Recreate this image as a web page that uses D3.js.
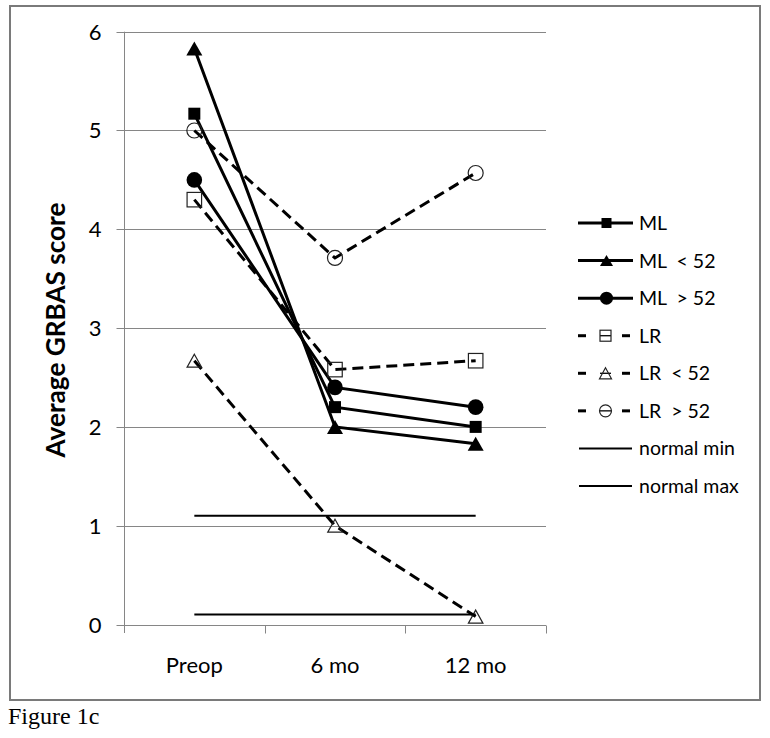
<!DOCTYPE html>
<html>
<head>
<meta charset="utf-8">
<script src="https://cdn.jsdelivr.net/npm/d3@7/dist/d3.min.js"></script>
<style>
  html, body { margin: 0; padding: 0; background: #fff; }
  svg { display: block; }
  text { font-family: Lato, "Open Sans", sans-serif; fill: #000; }
</style>
</head>
<body>
<svg id="chart" width="770" height="738"></svg>
<script>
// ---- data ----
const categories = ["Preop", "6 mo", "12 mo"];
const yTicks = [0, 1, 2, 3, 4, 5, 6];
const seriesNames = ["ML", "ML\u00a0\u00a0< 52", "ML\u00a0\u00a0> 52", "LR", "LR\u00a0\u00a0< 52", "LR\u00a0\u00a0> 52", "normal min", "normal max"];
const ML      = [5.17, 2.20, 2.00];
const ML_lt52 = [5.83, 2.00, 1.83];
const ML_gt52 = [4.50, 2.40, 2.20];
const LR      = [4.30, 2.58, 2.67];
const LR_lt52 = [2.67, 1.00, 0.08];
const LR_gt52 = [5.00, 3.71, 4.57];
const normalMin = [0.10, 0.10, 0.10];
const normalMax = [1.10, 1.10, 1.10];
const seriesValues = [ML, ML_lt52, ML_gt52, LR, LR_lt52, LR_gt52, normalMin, normalMax];

// ---- styles ----
const styles = [
  {marker: "square",   filled: true,  dash: null,   width: 3},
  {marker: "triangle", filled: true,  dash: null,   width: 3},
  {marker: "circle",   filled: true,  dash: null,   width: 3},
  {marker: "square",   filled: false, dash: "11,6", width: 3},
  {marker: "triangle", filled: false, dash: "11,6", width: 3},
  {marker: "circle",   filled: false, dash: "11,6", width: 3},
  {marker: null,       filled: false, dash: null,   width: 2},
  {marker: null,       filled: false, dash: null,   width: 2}
];

const svg = d3.select("#chart");
const gridColor = "#868686";

// outer frame
svg.append("rect").attr("x", 10).attr("y", 6).attr("width", 750).attr("height", 694)
  .attr("fill", "none").attr("stroke", "#7a7a7a").attr("stroke-width", 2);

// scales
const x = d3.scaleBand().domain(categories).range([124, 546]).paddingInner(0).paddingOuter(0);
const y = d3.scaleLinear().domain([0, 6]).range([624.5, 31.7]);
const cx = c => x(c) + x.bandwidth() / 2;

// gridlines
svg.append("g").selectAll("line").data(yTicks.filter(t => t > 0)).join("line")
  .attr("x1", 124).attr("x2", 546)
  .attr("y1", d => Math.round(y(d)) + 0.5).attr("y2", d => Math.round(y(d)) + 0.5)
  .attr("stroke", gridColor).attr("stroke-width", 1);

// y axis
const yAxis = d3.axisLeft(y).tickValues(yTicks).tickSize(8).tickPadding(15).tickFormat(d3.format("d"));
const gy = svg.append("g").attr("transform", "translate(124.5,0)").call(yAxis);
gy.select(".domain").attr("stroke", gridColor).attr("d", `M0,${y(6)}V${y(0) + 8.5}`);
gy.selectAll(".tick line").attr("stroke", gridColor);
gy.selectAll(".tick text").attr("font-size", 22).attr("font-family", "Lato").attr("fill", "#000").attr("dy", "0.36em");
gy.selectAll(".tick").attr("transform", d => `translate(0,${Math.round(y(d)) + 0.5})`);

// x axis
const xAxis = d3.axisBottom(x).tickSize(0).tickPadding(32);
const gx = svg.append("g").attr("transform", `translate(0,${Math.round(y(0)) + 0.5})`).call(xAxis);
gx.select(".domain").attr("stroke", gridColor).attr("d", "M124,0H546");
gx.selectAll(".tick text").attr("font-size", 22).attr("font-family", "Lato").attr("fill", "#000");
// category boundary ticks
const bounds = categories.map(c => x(c)).concat([x(categories[categories.length - 1]) + x.bandwidth()]).slice(1);
gx.append("g").selectAll("line").data(bounds).join("line")
  .attr("x1", d => Math.round(d) + 0.5).attr("x2", d => Math.round(d) + 0.5)
  .attr("y1", 0).attr("y2", 8).attr("stroke", gridColor);

// y title
const title = svg.append("text")
  .attr("transform", "translate(65,330) rotate(-90)")
  .attr("text-anchor", "middle")
  .attr("font-weight", "bold")
  .attr("font-size", 25)
  .text("Average GRBAS score");
const tl = title.node().getComputedTextLength();
title.attr("font-size", 25 * 255 / tl);

// marker drawing
function drawMarker(g, type, filled, px, py, big) {
  if (type === "square") {
    const s = filled ? (big ? 12 : 10) : (big ? 14.5 : 11);
    g.append("rect").attr("x", px - s / 2).attr("y", py - s / 2).attr("width", s).attr("height", s)
      .attr("fill", filled ? "#000" : "none").attr("stroke", filled ? "none" : "#222").attr("stroke-width", 1.2);
  } else if (type === "triangle") {
    const w = filled ? (big ? 16 : 13) : (big ? 14.5 : 12);
    const h = filled ? (big ? 14 : 11) : (big ? 13 : 11);
    const p = d3.path();
    p.moveTo(px, py - h / 2); p.lineTo(px + w / 2, py + h / 2); p.lineTo(px - w / 2, py + h / 2); p.closePath();
    g.append("path").attr("d", p.toString())
      .attr("fill", filled ? "#000" : "none").attr("stroke", filled ? "none" : "#222").attr("stroke-width", 1.2);
  } else if (type === "circle") {
    const r = filled ? (big ? 7.8 : 6.5) : (big ? 7.5 : 6);
    g.append("circle").attr("cx", px).attr("cy", py).attr("r", r)
      .attr("fill", filled ? "#000" : "none").attr("stroke", filled ? "none" : "#222").attr("stroke-width", 1.2);
  }
}

// series
const line = d3.line().x((d, i) => cx(categories[i])).y(d => y(d));
const plot = svg.append("g");
seriesValues.forEach((vals, si) => {
  const st = styles[si];
  const g = plot.append("g");
  g.append("path").attr("d", line(vals)).attr("fill", "none").attr("stroke", "#000")
    .attr("stroke-width", st.width).attr("stroke-dasharray", st.dash);
  if (st.marker) {
    vals.forEach((v, i) => drawMarker(g, st.marker, st.filled, cx(categories[i]), y(v), true));
  }
});

// legend
const legendY = d3.scaleLinear().domain([0, 7]).range([223, 486]);
const lg = svg.append("g");
seriesNames.forEach((name, si) => {
  const st = styles[si];
  const ly = legendY(si);
  const g = lg.append("g");
  if (st.marker && st.dash) {
    [[578, 586], [622, 630]].forEach(s => g.append("line").attr("x1", s[0]).attr("x2", s[1])
      .attr("y1", ly).attr("y2", ly).attr("stroke", "#000").attr("stroke-width", 3));
    g.append("line").attr("x1", 600).attr("x2", 611).attr("y1", ly).attr("y2", ly)
      .attr("stroke", "#000").attr("stroke-width", 1.3);
    drawMarker(g, st.marker, false, 605.5, ly, false);
  } else if (st.marker) {
    g.append("line").attr("x1", 578).attr("x2", 633).attr("y1", ly).attr("y2", ly)
      .attr("stroke", "#000").attr("stroke-width", 3);
    drawMarker(g, st.marker, true, 606.5, ly, false);
  } else {
    g.append("line").attr("x1", 579).attr("x2", 632).attr("y1", ly).attr("y2", ly)
      .attr("stroke", "#000").attr("stroke-width", 2);
  }
  g.append("text").attr("x", 639).attr("y", ly).attr("dy", "0.36em")
    .attr("font-size", 19.5).text(name);
});

// caption
svg.append("text").attr("x", 8).attr("y", 724)
  .style("font-family", "'Liberation Serif', 'Times New Roman', serif")
  .attr("font-size", 24).text("Figure 1c");
</script>
</body>
</html>
